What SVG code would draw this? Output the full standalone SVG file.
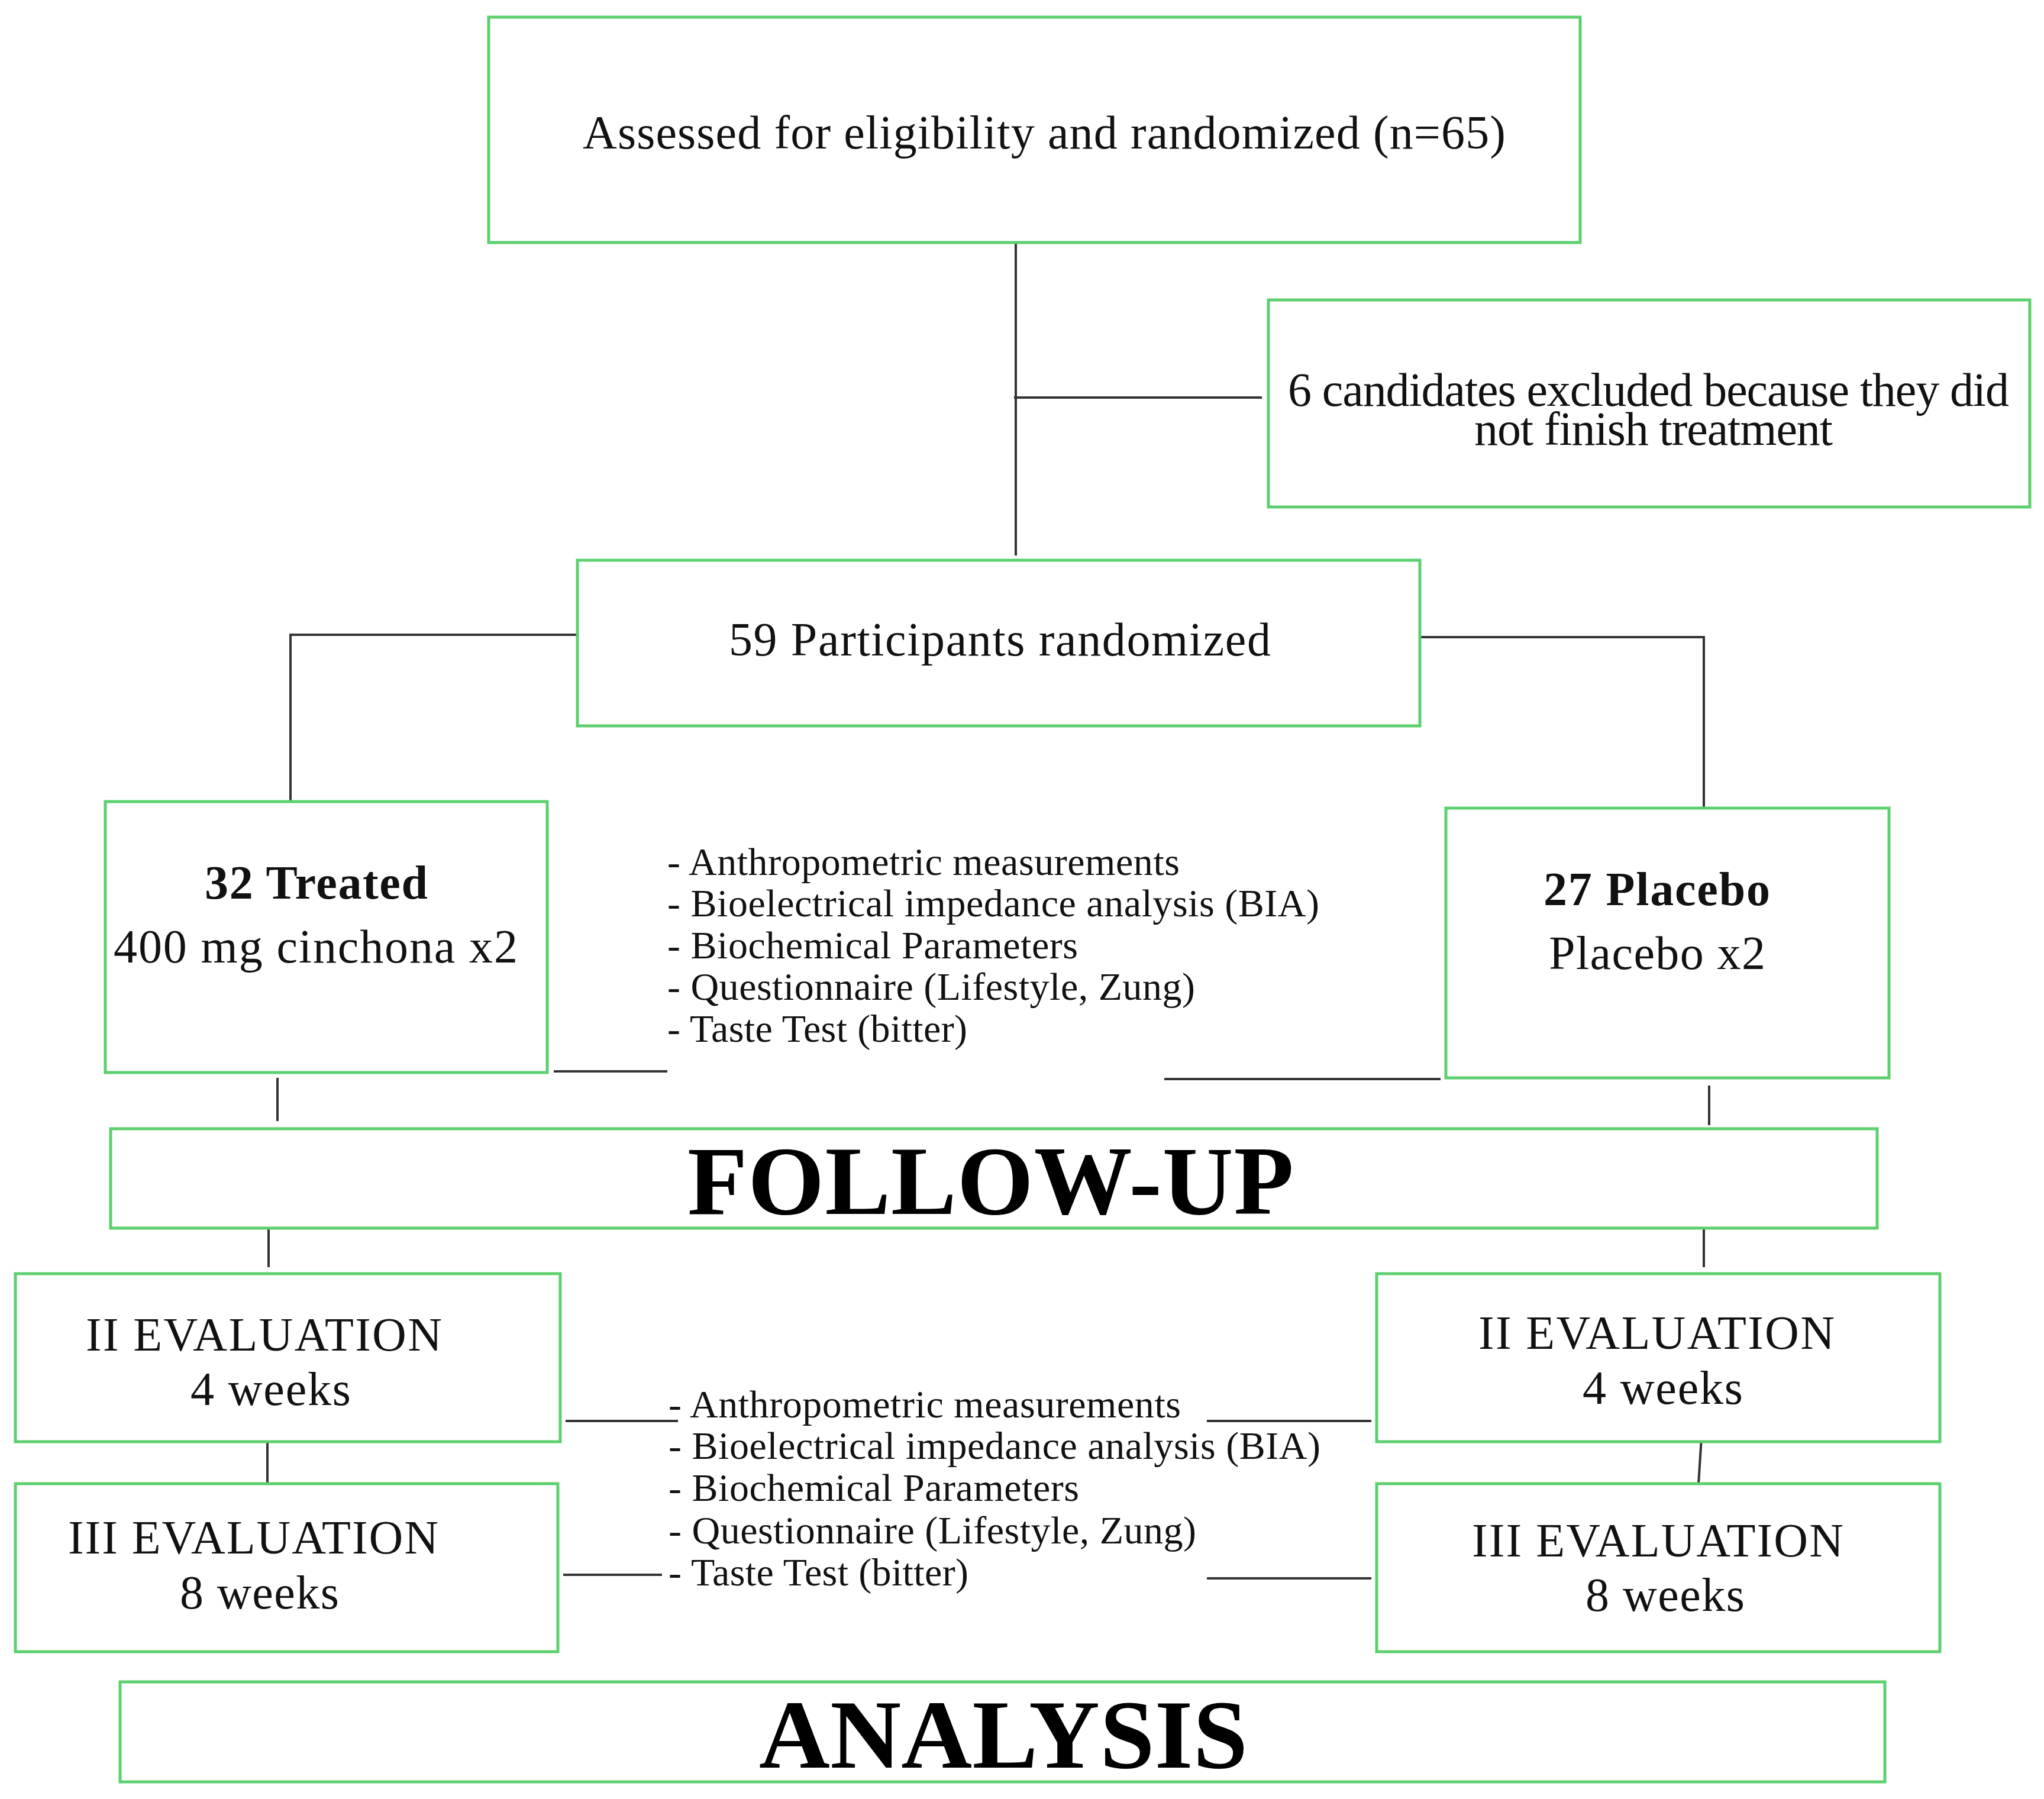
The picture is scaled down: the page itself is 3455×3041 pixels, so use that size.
<svg xmlns="http://www.w3.org/2000/svg" width="3455" height="3041" viewBox="0 0 3455 3041">
<style>
.b{fill:#fff;stroke:#5ccf6e;stroke-width:5}
.t{font-family:"Liberation Serif",serif;font-size:80px;fill:#111}
.l{font-family:"Liberation Serif",serif;font-size:66px;fill:#111}
.h{font-family:"Liberation Serif",serif;font-size:166px;font-weight:bold;fill:#000}
.c{stroke:#333;stroke-width:4;fill:none}
</style>
<rect width="3455" height="3041" fill="#fff"/>
<g id="connectors">
<path class="c" d="M1717 410V939M1714 672H2133M976 1073H491V1360M2400 1077H2880V1366M936 1811H1128M1968 1824H2435M469 1822V1895M2889 1835V1902M454 2076V2142M2880 2076V2142M452 2437V2508M2876 2430L2871 2508M956 2402H1146M2040 2402H2318M952 2662H1119M2040 2668H2318"/>
</g>
<g id="n1"><rect class="b" x="826" y="29" width="1845" height="381"/><text class="t" x="985" y="251" textLength="1560" lengthAdjust="spacing">Assessed for eligibility and randomized (n=65)</text></g>
<g id="n2"><rect class="b" x="2144" y="507" width="1287" height="350"/><text class="t" x="2177" y="686" textLength="1219" lengthAdjust="spacing">6 candidates excluded because they did</text><text class="t" x="2492" y="752" textLength="606" lengthAdjust="spacing">not finish treatment</text></g>
<g id="n3"><rect class="b" x="976" y="947" width="1424" height="280"/><text class="t" x="1232" y="1108" textLength="916" lengthAdjust="spacing">59 Participants randomized</text></g>
<g id="n4"><rect class="b" x="178" y="1355" width="747" height="458"/><text class="t" x="346" y="1519" font-weight="bold" textLength="377" lengthAdjust="spacing">32 Treated</text><text class="t" x="192" y="1627" textLength="683" lengthAdjust="spacing">400 mg cinchona x2</text></g>
<g id="n5"><rect class="b" x="2444" y="1366" width="749" height="456"/><text class="t" x="2609" y="1530" font-weight="bold" textLength="383" lengthAdjust="spacing">27 Placebo</text><text class="t" x="2618" y="1638" textLength="366" lengthAdjust="spacing">Placebo x2</text></g>
<g id="list1"><text class="l" x="1128" y="1479" textLength="866" lengthAdjust="spacing">- Anthropometric measurements</text><text class="l" x="1128" y="1549" textLength="1102" lengthAdjust="spacing">- Bioelectrical impedance analysis (BIA)</text><text class="l" x="1128" y="1620" textLength="694" lengthAdjust="spacing">- Biochemical Parameters</text><text class="l" x="1128" y="1690" textLength="892" lengthAdjust="spacing">- Questionnaire (Lifestyle, Zung)</text><text class="l" x="1128" y="1761" textLength="507" lengthAdjust="spacing">- Taste Test (bitter)</text></g>
<g id="n6"><rect class="b" x="187" y="1908" width="2986" height="168"/><text class="h" x="1162" y="2052" textLength="1025" lengthAdjust="spacing">FOLLOW-UP</text></g>
<g id="n7"><rect class="b" x="26" y="2153" width="921" height="284"/><text class="t" x="145" y="2283" textLength="602" lengthAdjust="spacing">II EVALUATION</text><text class="t" x="322" y="2375" textLength="271" lengthAdjust="spacing">4 weeks</text></g>
<g id="n8"><rect class="b" x="26" y="2508" width="917" height="284"/><text class="t" x="115" y="2626" textLength="626" lengthAdjust="spacing">III EVALUATION</text><text class="t" x="304" y="2719" textLength="269" lengthAdjust="spacing">8 weeks</text></g>
<g id="n9"><rect class="b" x="2327" y="2153" width="952" height="284"/><text class="t" x="2499" y="2280" textLength="602" lengthAdjust="spacing">II EVALUATION</text><text class="t" x="2675" y="2373" textLength="271" lengthAdjust="spacing">4 weeks</text></g>
<g id="n10"><rect class="b" x="2327" y="2508" width="952" height="284"/><text class="t" x="2488" y="2631" textLength="628" lengthAdjust="spacing">III EVALUATION</text><text class="t" x="2680" y="2723" textLength="269" lengthAdjust="spacing">8 weeks</text></g>
<g id="list2"><text class="l" x="1130" y="2396" textLength="866" lengthAdjust="spacing">- Anthropometric measurements</text><text class="l" x="1130" y="2466" textLength="1102" lengthAdjust="spacing">- Bioelectrical impedance analysis (BIA)</text><text class="l" x="1130" y="2537" textLength="694" lengthAdjust="spacing">- Biochemical Parameters</text><text class="l" x="1130" y="2609" textLength="892" lengthAdjust="spacing">- Questionnaire (Lifestyle, Zung)</text><text class="l" x="1130" y="2680" textLength="507" lengthAdjust="spacing">- Taste Test (bitter)</text></g>
<g id="n11"><rect class="b" x="203" y="2843" width="2983" height="169"/><text class="h" x="1283" y="2988" textLength="826" lengthAdjust="spacing">ANALYSIS</text></g>
</svg>
